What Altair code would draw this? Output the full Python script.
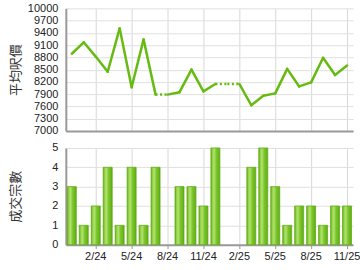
import altair as alt
import pandas as pd

months = ["12/23", "1/24", "2/24", "3/24", "4/24", "5/24", "6/24", "7/24", "8/24", "9/24",
          "10/24", "11/24", "12/24", "1/25", "2/25", "3/25", "4/25", "5/25", "6/25", "7/25",
          "8/25", "9/25", "10/25", "11/25"]
price = [8890, 9170, 8820, 8450, 9510, 8070, 9240, 7890, None, 7950,
         8500, 7970, 8150, None, None, 7630, 7860, 7920, 8520, 8090,
         8190, 8790, 8370, 8600]
deals = [3, 1, 2, 4, 1, 4, 1, 4, 0, 3, 3, 2, 5, 0, 0, 4, 5, 3, 1, 2, 2, 1, 2, 2]
tick_months = ["2/24", "5/24", "8/24", "11/24", "2/25", "5/25", "8/25", "11/25"]
price_ticks = list(range(7000, 10001, 300))

# carry last value over months with no transactions (drawn dotted)
filled = []
last = None
for v in price:
    if v is not None:
        last = v
    filled.append(last)

rows = []
for i in range(len(months) - 1):
    style = "dash" if price[i + 1] is None else "solid"
    rows.append({"m": months[i], "v": filled[i], "seg": i, "style": style})
    rows.append({"m": months[i + 1], "v": filled[i + 1], "seg": i, "style": style})
line_df = pd.DataFrame(rows)
bar_df = pd.DataFrame({"m": months, "n": deals})

FONT = "Liberation Sans"
CJK = "Noto Sans CJK TC"
GREEN = "#66bb11"

yaxis_common = dict(ticks=False, labelPadding=8, labelFont=FONT, labelFontSize=11,
                    labelColor="#222222", titleFont=CJK, titleFontSize=13,
                    titleFontWeight="normal", titleColor="#333333", titlePadding=7,
                    minExtent=36, maxExtent=36,
                    gridColor="#e0e0e0", domainColor="#999999", domainWidth=2)

x_top = alt.X("m:O", sort=months,
              scale=alt.Scale(type="point", padding=0.5),
              axis=alt.Axis(values=tick_months, labels=False, ticks=False, title=None,
                            grid=True, gridColor="#d8d8d8", domainColor="#999999",
                            domainWidth=2))
y_top = alt.Y("v:Q", scale=alt.Scale(domain=[7000, 10000], nice=False, zero=False),
              axis=alt.Axis(values=price_ticks, format="d", title="平均呎價", **yaxis_common))

solid = alt.Chart(line_df).transform_filter(alt.datum.style == "solid").mark_line(
    color=GREEN, strokeWidth=2.5, strokeJoin="round", strokeCap="round"
).encode(x=x_top, y=y_top, detail="seg:N")
dashed = alt.Chart(line_df).transform_filter(alt.datum.style == "dash").mark_line(
    color=GREEN, strokeWidth=2.5, strokeDash=[2, 2.5]
).encode(x=x_top, y=y_top, detail="seg:N")

top = alt.layer(solid, dashed).properties(width=288, height=123)

grad = alt.Gradient(
    gradient="linear", x1=0, x2=1, y1=0, y2=0,
    stops=[
        alt.GradientStop(offset=0, color="#5fa914"),
        alt.GradientStop(offset=0.15, color="#8fd042"),
        alt.GradientStop(offset=0.35, color="#b3e270"),
        alt.GradientStop(offset=0.6, color="#7cc62e"),
        alt.GradientStop(offset=0.85, color="#6ab81c"),
        alt.GradientStop(offset=1, color="#5aa512"),
    ],
)

bottom = alt.Chart(bar_df).transform_filter(alt.datum.n > 0).mark_bar(
    color=grad, stroke="#64ad18", strokeWidth=0.8
).encode(
    x=alt.X("m:O", sort=months,
            scale=alt.Scale(type="band", domain=months, paddingInner=0.25, paddingOuter=0.125),
            axis=alt.Axis(values=tick_months, title=None, labelAngle=0, tickSize=4,
                          tickColor="#999999", labelPadding=2, labelFont=FONT,
                          labelFontSize=11, labelColor="#222222", grid=True,
                          gridColor="#d8d8d8", domainColor="#999999", domainWidth=2)),
    y=alt.Y("n:Q", scale=alt.Scale(domain=[0, 5], nice=False),
            axis=alt.Axis(values=[0, 1, 2, 3, 4, 5], title="成交宗數", **yaxis_common)),
).properties(width=288, height=97)

chart = alt.vconcat(top, bottom, spacing=17, bounds="flush").properties(
    padding={"left": 10, "top": 2, "right": 0, "bottom": 0},
    background="white",
).configure_view(stroke=None)

chart.save("out.html", embed_options={"renderer": "svg", "actions": False})
